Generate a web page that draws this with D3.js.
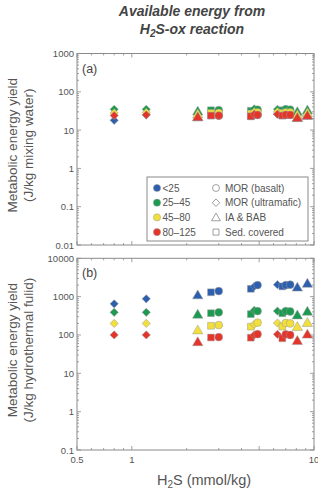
<!DOCTYPE html>
<html>
<head>
<meta charset="utf-8">
<script src="https://cdn.jsdelivr.net/npm/d3@7"></script>
<style>
  body { margin: 0; background: #fff; }
  svg { font-family: 'Liberation Sans', Arial, sans-serif; }
</style>
</head>
<body>
<div id="chart"></div>
<script>
// sites: H2S (mmol/kg) and vent type
const h2s = [0.8, 1.2, 2.3, 2.72, 3.0, 4.5, 4.7, 4.9, 6.3, 6.7, 7.0, 7.4, 8.1, 9.2]
const ventType = ['diamond', 'diamond', 'triangle', 'square', 'circle', 'square', 'diamond', 'circle',
  'diamond', 'square', 'circle', 'circle', 'triangle', 'triangle']

const tempClasses = ['<25', '25\u201345', '45\u201380', '80\u2013125']
const tempColors = ['#2d5fae', '#1c9a4f', '#f2df3c', '#e5352b']

// (a) J/kg mixing water, one array per temperature class
const mixBlue = [18, 25, 22, 24, 24, 23, 25, 25, 26, 24, 25, 25, 21, 24]
const mixGreen = [35, 35, 31, 33, 33, 32, 36, 34, 35, 33, 35, 34, 30, 33]
const mixYellow = [28, 29, 26, 28, 28, 27, 30, 29, 30, 28, 29, 29, 25, 28]
const mixRed = [24, 25, 22, 24, 24, 23, 26, 25, 26, 24, 25, 25, 21, 24]

// (b) J/kg hydrothermal fluid
const hfBlue = [650, 880, 1100, 1300, 1400, 1600, 1850, 2000, 2050, 1850, 2000, 2050, 1750, 2200]
const hfGreen = [390, 390, 345, 370, 390, 350, 440, 420, 420, 370, 420, 410, 330, 410]
const hfYellow = [200, 200, 134, 174, 181, 165, 190, 210, 205, 165, 205, 200, 164, 209]
const hfRed = [100, 100, 66, 86, 88, 85, 100, 105, 104, 82, 104, 100, 71, 104]

const ventLabels = ['MOR (basalt)', 'MOR (ultramafic)', 'IA & BAB', 'Sed. covered']
const ventShapes = ['circle', 'diamond', 'triangle', 'square']

const width = 318
const height = 493
const left = 77
const right = 314

const svg = d3.select('#chart').append('svg')
  .attr('width', width).attr('height', height)

const x = d3.scaleLog().domain([0.5, 10]).range([left, right])

const symbolGen = {
  circle: d3.symbol().type(d3.symbolCircle).size(48),
  square: d3.symbol().type(d3.symbolSquare).size(46),
  diamond: d3.symbol().type(d3.symbolSquare).size(34),
  triangle: d3.symbol().type(d3.symbolTriangle).size(46)
}
const legendSymbol = {
  circle: d3.symbol().type(d3.symbolCircle).size(38),
  square: d3.symbol().type(d3.symbolSquare).size(36),
  diamond: d3.symbol().type(d3.symbolSquare).size(28),
  triangle: d3.symbol().type(d3.symbolTriangle).size(34)
}
function shapeTransform(shape, px, py) {
  let t = 'translate(' + px + ',' + py + ')'
  if (shape === 'diamond') t += ' rotate(45)'
  if (shape === 'triangle') t += ' translate(0,0.8)'
  return t
}

const axisColor = '#8a8a8a'
const textColor = '#555'

// title
svg.append('text').attr('x', 192).attr('y', 16).attr('text-anchor', 'middle')
  .attr('font-size', 14).attr('font-weight', 'bold').attr('font-style', 'italic')
  .attr('fill', '#444').text('Available energy from')
const t2 = svg.append('text').attr('x', 192).attr('y', 34).attr('text-anchor', 'middle')
  .attr('font-size', 14).attr('font-weight', 'bold').attr('font-style', 'italic')
  .attr('fill', '#444')
t2.append('tspan').text('H')
t2.append('tspan').attr('font-size', 10).attr('dy', 3).text('2')
t2.append('tspan').attr('dy', -3).text('S-ox reaction')

function minorTicks(scale) {
  const [a, b] = scale.domain()
  const out = []
  for (let e = Math.floor(Math.log10(a)); e <= Math.ceil(Math.log10(b)); e++) {
    for (let m = 1; m < 10; m++) {
      const v = m * Math.pow(10, e)
      if (v >= a * 0.999 && v <= b * 1.001) out.push(v)
    }
  }
  return out
}

function drawPanel(top, bottom, yDomain, yLabels, label, series, line2, showX) {
  const y = d3.scaleLog().domain(yDomain).range([bottom, top])
  const g = svg.append('g')

  g.append('rect').attr('x', left).attr('y', top)
    .attr('width', right - left).attr('height', bottom - top)
    .attr('fill', 'none').attr('stroke', axisColor).attr('stroke-width', 1)

  // y ticks, both sides, inward
  minorTicks(y).forEach(v => {
    const major = Math.abs(Math.log10(v) - Math.round(Math.log10(v))) < 1e-6
    const len = major ? 4 : 2
    const py = y(v)
    g.append('line').attr('x1', left).attr('x2', left + len).attr('y1', py).attr('y2', py)
      .attr('stroke', axisColor).attr('stroke-width', 0.8)
    g.append('line').attr('x1', right).attr('x2', right - len).attr('y1', py).attr('y2', py)
      .attr('stroke', axisColor).attr('stroke-width', 0.8)
  })
  yLabels.forEach(v => {
    g.append('text').attr('x', left - 3).attr('y', y(v) + 3.5)
      .attr('text-anchor', 'end').attr('font-size', 9.5).attr('fill', textColor).text(v)
  })

  // x ticks, top and bottom, inward
  minorTicks(x).forEach(v => {
    const major = v === 0.5 || v === 1 || v === 10 || v === 5
    const len = major ? 4 : 2
    const px = x(v)
    g.append('line').attr('x1', px).attr('x2', px).attr('y1', bottom).attr('y2', bottom - len)
      .attr('stroke', axisColor).attr('stroke-width', 0.8)
    g.append('line').attr('x1', px).attr('x2', px).attr('y1', top).attr('y2', top + len)
      .attr('stroke', axisColor).attr('stroke-width', 0.8)
  })
  if (showX) {
    [0.5, 1, 10].forEach(v => {
      g.append('text').attr('x', x(v)).attr('y', bottom + 13)
        .attr('text-anchor', 'middle').attr('font-size', 9.5).attr('fill', textColor).text(v)
    })
  }

  g.append('text').attr('x', left + 5).attr('y', top + 19)
    .attr('font-size', 12.5).attr('fill', '#444').text(label)

  // y titles
  const cy = (top + bottom) / 2 - 4
  g.append('text').attr('transform', 'translate(17,' + cy + ') rotate(-90)')
    .attr('text-anchor', 'middle').attr('font-size', 13.5).attr('fill', textColor)
    .text('Metabolic energy yield')
  g.append('text').attr('transform', 'translate(32.5,' + cy + ') rotate(-90)')
    .attr('text-anchor', 'middle').attr('font-size', 13.5).attr('fill', textColor)
    .text(line2)

  series.forEach((vals, ci) => {
    g.selectAll('.pt' + ci)
      .data(vals)
      .enter()
      .append('path')
      .attr('d', (d, i) => symbolGen[ventType[i]]())
      .attr('transform', (d, i) => shapeTransform(ventType[i], x(h2s[i]), y(d)))
      .attr('fill', tempColors[ci])
      .attr('stroke', '#9a9a9a')
      .attr('stroke-width', 0.5)
  })
  return y
}

drawPanel(53.5, 245, [0.01, 1000], [0.01, 0.1, 1, 10, 100, 1000], '(a)',
  [mixBlue, mixGreen, mixYellow, mixRed], '(J/kg mixing water)', false)
drawPanel(258.3, 450, [0.1, 10000], [0.1, 1, 10, 100, 1000, 10000], '(b)',
  [hfBlue, hfGreen, hfYellow, hfRed], '(J/kg hydrothermal fulid)', true)

// x title
const xt = svg.append('text').attr('x', 204).attr('y', 485).attr('text-anchor', 'middle')
  .attr('font-size', 14.5).attr('fill', textColor)
xt.append('tspan').text('H')
xt.append('tspan').attr('font-size', 10).attr('dy', 3).text('2')
xt.append('tspan').attr('dy', -3).text('S (mmol/kg)')

// legend
const lg = svg.append('g')
lg.append('rect').attr('x', 147).attr('y', 177).attr('width', 161).attr('height', 64)
  .attr('fill', '#fff').attr('stroke', axisColor).attr('stroke-width', 1)
tempClasses.forEach((c, i) => {
  const py = 188 + i * 14.7
  lg.append('circle').attr('cx', 157).attr('cy', py).attr('r', 3.6)
    .attr('fill', tempColors[i]).attr('stroke', '#9a9a9a').attr('stroke-width', 0.5)
  lg.append('text').attr('x', 162.5).attr('y', py + 3.6).attr('font-size', 10)
    .attr('fill', textColor).text(c)
})
ventShapes.forEach((s, i) => {
  const py = 188 + i * 14.7
  lg.append('path').attr('d', legendSymbol[s]())
    .attr('transform', shapeTransform(s, 216, py))
    .attr('fill', 'none').attr('stroke', '#777').attr('stroke-width', 0.7)
  lg.append('text').attr('x', 225).attr('y', py + 3.6).attr('font-size', 10)
    .attr('fill', textColor).text(ventLabels[i])
})
</script>
</body>
</html>
